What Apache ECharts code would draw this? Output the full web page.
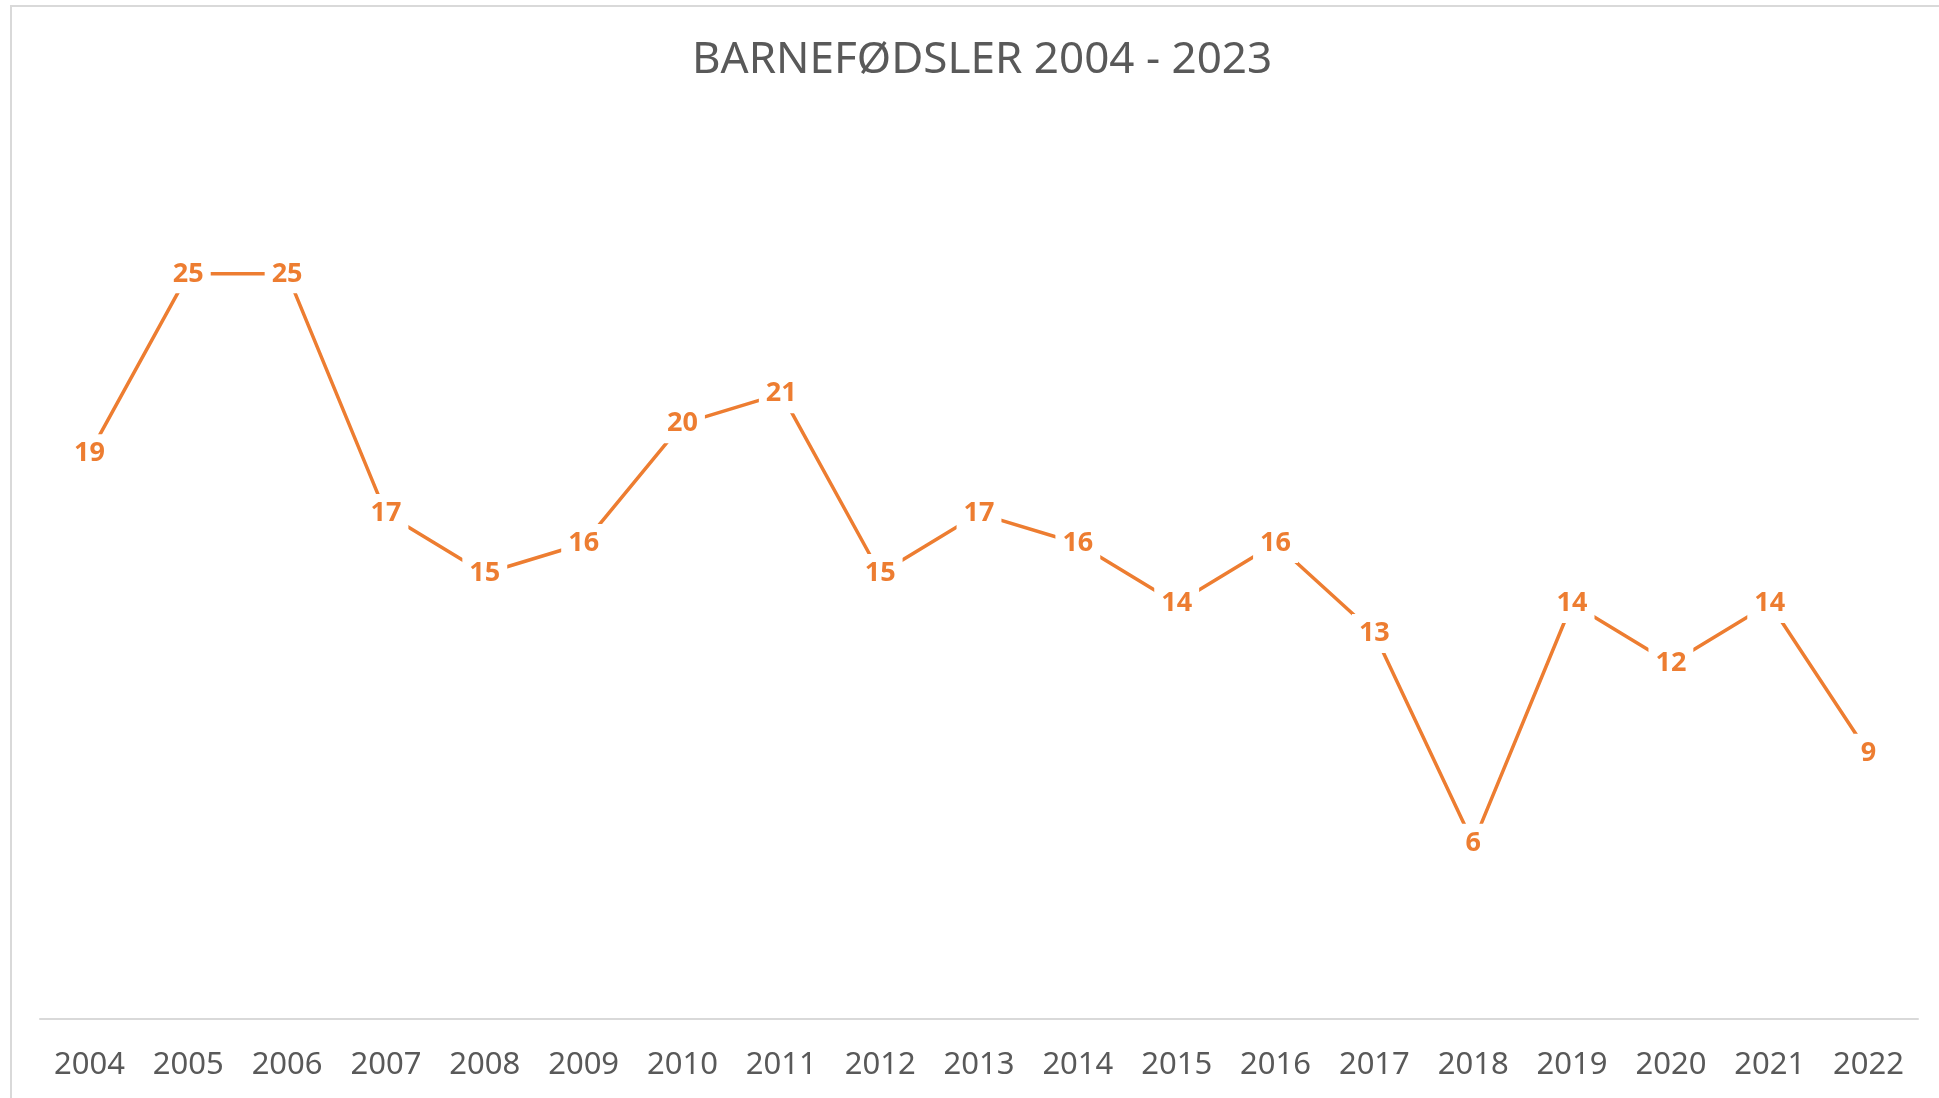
<!DOCTYPE html>
<html>
<head>
<meta charset="utf-8">
<script src="https://cdn.jsdelivr.net/npm/echarts@6/dist/echarts.min.js"></script>
<style>
html,body{margin:0;padding:0;background:#fff;}
#chart{width:1939px;height:1098px;}
</style>
</head>
<body>
<div id="chart"></div>
<script>
const titleText = 'BARNEFØDSLER 2004 - 2023';
const years = ['2004','2005','2006','2007','2008','2009','2010','2011','2012','2013','2014','2015','2016','2017','2018','2019','2020','2021','2022'];
const births = [19,25,25,17,15,16,20,21,15,17,16,14,16,13,6,14,12,14,9];

const chart = echarts.init(document.getElementById('chart'), null, {renderer:'canvas'});
chart.setOption({
  animation:false,
  backgroundColor:'#ffffff',
  graphic:[{
    type:'rect', silent:true, z:-1,
    shape:{x:11, y:6, width:1940, height:1100},
    style:{fill:'none', stroke:'#d9d9d9', lineWidth:2}
  }],
  title:{
    text:titleText, left:687, top:33,
    textStyle:{fontFamily:'Noto Sans', fontWeight:'normal', fontSize:44, color:'#595959'}
  },
  grid:{left:40, right:21, top:124, bottom:75, containLabel:false},
  xAxis:{
    type:'category', data:years, boundaryGap:true, offset:-4,
    axisLine:{show:true, lineStyle:{color:'#d9d9d9', width:2}},
    axisTick:{show:false},
    axisLabel:{color:'#595959', fontFamily:'Noto Sans', fontSize:31, margin:31}
  },
  yAxis:{
    type:'value', min:0, max:30, interval:5, show:false,
    splitLine:{show:false}
  },
  series:[{
    type:'line', data:births, symbol:'circle', symbolSize:1, showSymbol:true,
    lineStyle:{color:'#ED7D31', width:3.5},
    itemStyle:{color:'#ED7D31'},
    label:{
      show:true, position:'inside', color:'#ED7D31',
      fontFamily:'Noto Sans', fontWeight:'bold', fontSize:27,
      backgroundColor:'#ffffff', padding:[6,7,6,7]
    },
    labelLayout:{hideOverlap:false}
  }]
});
</script>
</body>
</html>
